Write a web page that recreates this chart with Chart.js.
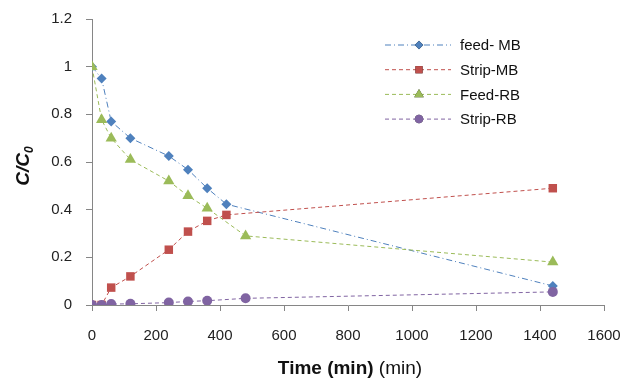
<!DOCTYPE html>
<html>
<head>
<meta charset="utf-8">
<script src="https://cdn.jsdelivr.net/npm/chart.js@4"></script>
<style>
  html, body { margin: 0; padding: 0; background: #fff; }
  #wrap { width: 620px; height: 378px; }
</style>
</head>
<body>
<div id="wrap"><canvas id="c" width="620" height="378"></canvas></div>
<script>
// time points (min)
const timeMB = [0, 30, 60, 120, 240, 300, 360, 420, 1440];
const timeRB = [0, 30, 60, 120, 240, 300, 360, 480, 1440];

// C/C0 values
const feedMB  = [1.0, 0.95, 0.77, 0.70, 0.625, 0.568, 0.49, 0.423, 0.08];
const stripMB = [0, 0, 0.073, 0.12, 0.232, 0.308, 0.353, 0.378, 0.49];
const feedRB  = [1.0, 0.777, 0.70, 0.61, 0.52, 0.458, 0.406, 0.29, 0.18];
const stripRB = [0, 0, 0.004, 0.005, 0.01, 0.015, 0.018, 0.028, 0.055];

const xTicks = [0, 200, 400, 600, 800, 1000, 1200, 1400, 1600];
const yTicks = [0, 0.2, 0.4, 0.6, 0.8, 1, 1.2];

const FONT = '"Liberation Sans", Arial, sans-serif';

function pts(xs, ys) {
    return xs.map((x, i) => ({ x: x, y: ys[i] }));
}

function series(label, xs, ys, color, style, radius, dash, order) {
    return {
        label: label,
        data: pts(xs, ys),
        borderColor: color,
        backgroundColor: color,
        borderWidth: 1,
        borderDash: dash,
        pointStyle: style,
        pointRadius: radius,
        pointHoverRadius: radius,
        pointBorderWidth: 0,
        showLine: true,
        fill: false,
        tension: 0,
        order: order // later series sit on top, like the spreadsheet
    };
}

const datasets = [
    series('feed- MB', timeMB, feedMB, '#4F81BD', 'rectRot', 5, [6, 3, 1, 3], 3),
    series('Strip-MB', timeMB, stripMB, '#C0504D', 'rect', 6, [4, 3], 2),
    series('Feed-RB', timeRB, feedRB, '#9BBB59', 'triangle', 6.5, [4, 3], 1),
    series('Strip-RB', timeRB, stripRB, '#8064A2', 'circle', 5, [4, 3], 0)
];

// legend with line + marker, like the spreadsheet one
const lineLegend = {
    id: 'lineLegend',
    afterDraw(chart) {
        const ctx = chart.ctx;
        ctx.save();
        chart.data.datasets.forEach((ds, i) => {
            const y = 45 + i * 24.7;
            ctx.strokeStyle = ds.borderColor;
            ctx.lineWidth = 1;
            ctx.setLineDash(ds.borderDash);
            ctx.beginPath();
            ctx.moveTo(385, y);
            ctx.lineTo(451, y);
            ctx.stroke();
            ctx.setLineDash([]);
            Chart.helpers.drawPoint(ctx, {
                pointStyle: ds.pointStyle,
                radius: ds.pointRadius * 0.85,
                borderWidth: 0,
                rotation: 0
            }, 419, y);
            ctx.fillStyle = ds.backgroundColor;
            ctx.fill();
            ctx.fillStyle = '#111';
            ctx.font = '15px ' + FONT;
            ctx.textBaseline = 'middle';
            ctx.textAlign = 'left';
            ctx.fillText(ds.label, 460, y + 1);
        });
        ctx.restore();
    }
};

// axis titles: bold + plain parts, subscript 0
const axisTitles = {
    id: 'axisTitles',
    afterDraw(chart) {
        const ctx = chart.ctx;
        const area = chart.chartArea;
        ctx.save();
        ctx.fillStyle = '#111';
        ctx.textBaseline = 'alphabetic';
        // x title
        const boldPart = 'Time (min)';
        const plainPart = ' (min)';
        ctx.font = 'bold 19px ' + FONT;
        const wb = ctx.measureText(boldPart).width;
        ctx.font = '19px ' + FONT;
        const wp = ctx.measureText(plainPart).width;
        const cx = 350;
        let x0 = cx - (wb + wp) / 2;
        ctx.font = 'bold 19px ' + FONT;
        ctx.textAlign = 'left';
        ctx.fillText(boldPart, x0, 374);
        ctx.font = '19px ' + FONT;
        ctx.fillText(plainPart, x0 + wb, 374);
        // y title
        ctx.translate(29, (area.top + area.bottom) / 2 + 4);
        ctx.rotate(-Math.PI / 2);
        ctx.font = 'italic bold 19px ' + FONT;
        const main = 'C/C';
        const wm = ctx.measureText(main).width;
        ctx.font = 'italic bold 12px ' + FONT;
        const ws = ctx.measureText('0').width;
        const start = -(wm + ws) / 2;
        ctx.font = 'italic bold 19px ' + FONT;
        ctx.fillText(main, start, 0);
        ctx.font = 'italic bold 12px ' + FONT;
        ctx.fillText('0', start + wm, 4);
        ctx.restore();
    }
};

const axisColor = '#868686';

new Chart(document.getElementById('c'), {
    type: 'scatter',
    data: { datasets: datasets },
    options: {
        responsive: false,
        animation: false,
        layout: { padding: { left: 0, right: 16, top: 19, bottom: 0 } },
        plugins: {
            legend: { display: false },
            tooltip: { enabled: false }
        },
        scales: {
            x: {
                type: 'linear',
                min: 0,
                max: 1600,
                afterBuildTicks(scale) {
                    scale.ticks = xTicks.map(v => ({ value: v }));
                },
                afterFit(scale) {
                    scale.height = 73;
                    scale.paddingLeft = 0;
                    scale.paddingRight = 0;
                },
                border: { color: axisColor, width: 1 },
                grid: {
                    drawOnChartArea: false,
                    drawTicks: true,
                    tickLength: 6,
                    color: axisColor
                },
                ticks: {
                    padding: 16,
                    color: '#222',
                    font: { family: FONT, size: 15 },
                    maxRotation: 0,
                    callback: v => String(v)
                }
            },
            y: {
                type: 'linear',
                min: 0,
                max: 1.2,
                afterBuildTicks(scale) {
                    scale.ticks = yTicks.map(v => ({ value: v }));
                },
                afterFit(scale) {
                    scale.width = 92;
                    scale.paddingTop = 0;
                    scale.paddingBottom = 0;
                },
                border: { color: axisColor, width: 1 },
                grid: {
                    drawOnChartArea: false,
                    drawTicks: true,
                    tickLength: 6,
                    color: axisColor
                },
                ticks: {
                    padding: 14,
                    color: '#222',
                    font: { family: FONT, size: 15 },
                    callback: v => String(Math.round(v * 10) / 10)
                }
            }
        }
    },
    plugins: [lineLegend, axisTitles]
});
</script>
</body>
</html>
